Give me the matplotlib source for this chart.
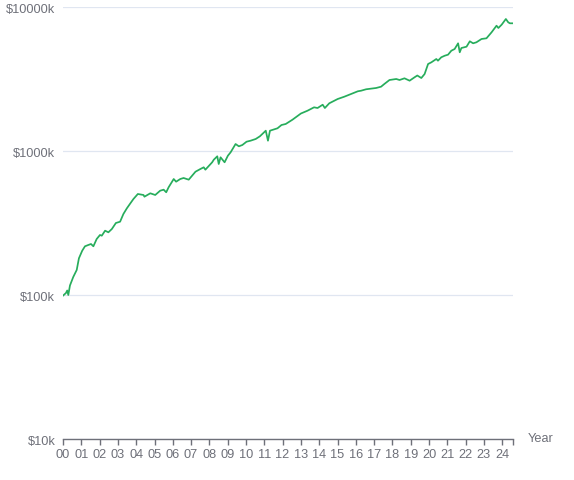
import numpy as np
import matplotlib
matplotlib.use("Agg")
import matplotlib.pyplot as plt
from matplotlib.ticker import FixedLocator, NullFormatter

# years since 2000 and portfolio value in $k
years = [0.01, 0.16, 0.23, 0.29, 0.38, 0.56, 0.75, 0.87, 1.05, 1.20,
         1.38, 1.53, 1.66, 1.84, 2.02, 2.12, 2.30, 2.48, 2.67, 2.89,
         3.12, 3.30, 3.49, 3.72, 3.85, 4.09, 4.40, 4.45, 4.77, 5.04,
         5.31, 5.50, 5.64, 5.77, 6.05, 6.18, 6.41, 6.59, 6.87, 7.24,
         7.51, 7.69, 7.78, 8.15, 8.24, 8.43, 8.51, 8.61, 8.83, 9.01,
         9.16, 9.43, 9.61, 9.80, 10.03, 10.25, 10.53, 10.76, 11.08, 11.20,
         11.31, 11.72, 11.94, 12.17, 12.54, 13.00, 13.36, 13.72, 13.91, 14.19,
         14.31, 14.55, 15.01, 15.37, 15.74, 16.11, 16.29, 16.56, 17.11, 17.38,
         17.56, 17.84, 18.21, 18.39, 18.66, 18.94, 19.21, 19.36, 19.58, 19.76,
         19.95, 20.13, 20.40, 20.49, 20.67, 20.86, 21.04, 21.22, 21.40, 21.59,
         21.68, 21.77, 22.05, 22.23, 22.41, 22.59, 22.87, 23.14, 23.42, 23.69,
         23.79, 23.97, 24.20, 24.33, 24.42, 24.57]
values_k = [99.7, 103.7, 108.0, 100.5, 117.0, 134.0, 150.0, 180.7, 204.0, 218.9,
            223.5, 227.1, 218.9, 246.0, 262.3, 259.4, 281.0, 273.8, 288.7, 317.8,
            324.4, 366.9, 402.0, 442.3, 466.6, 505.3, 497.3, 483.9, 510.9, 497.3,
            532.7, 541.3, 519.3, 562.3, 642.2, 615.1, 642.2, 652.6, 635.2, 721.8,
            753.7, 774.3, 745.2, 838.5, 874.3, 923.1, 816.2, 908.4, 838.5, 932.0,
            984.2, 1123.6, 1083.0, 1105.9, 1166.0, 1184.8, 1217.5, 1271.3, 1390.4, 1184.8,
            1390.4, 1444.6, 1522.8, 1547.5, 1657.7, 1830.0, 1913.6, 2020.4, 1998.0, 2106.0,
            1998.0, 2154.4, 2307.6, 2394.0, 2499.7, 2610.5, 2635.5, 2695.5, 2752.0, 2809.6,
            2934.0, 3127.0, 3178.0, 3127.0, 3213.0, 3093.0, 3265.0, 3360.0, 3228.0, 3441.0,
            4039.0, 4150.0, 4375.0, 4258.0, 4496.0, 4612.0, 4687.0, 4995.0, 5132.0, 5623.0,
            4870.0, 5216.0, 5326.0, 5806.0, 5623.0, 5714.0, 6025.0, 6092.0, 6707.0, 7452.0,
            7184.0, 7572.0, 8295.0, 7865.0, 7743.0, 7743.0]

year_labels = [f"{i:02d}" for i in range(25)]
y_ticks = [10, 100, 1000, 10000]
y_labels = ["$10k", "$100k", "$1000k", "$10000k"]

LINE = "#27ad5c"
AXIS = "#6e7079"
GRID = "#e0e6f1"

plt.rcParams["font.family"] = ["Liberation Sans", "DejaVu Sans"]

fig = plt.figure(figsize=(5.74, 4.81), dpi=100)
ax = fig.add_axes([63 / 574, 1 - 440.3 / 481, (513 - 63) / 574, (440.3 - 8.3) / 481])

ax.plot(years, values_k, color=LINE, lw=1.25, solid_joinstyle="round", zorder=3)

ax.set_yscale("log")
ax.set_ylim(10, 10000)
ax.set_xlim(0, 24.59)

ax.yaxis.set_major_locator(FixedLocator(y_ticks))
ax.yaxis.set_minor_locator(FixedLocator([]))
ax.set_yticklabels(y_labels)
ax.yaxis.set_minor_formatter(NullFormatter())
ax.grid(axis="y", color=GRID, lw=0.9)
ax.set_axisbelow(True)

ax.set_xticks(range(25))
ax.set_xticklabels(year_labels)
ax.xaxis.set_minor_locator(FixedLocator([24.59]))

for side in ["top", "right", "left"]:
    ax.spines[side].set_visible(False)
ax.spines["bottom"].set_color(AXIS)
ax.spines["bottom"].set_linewidth(1.0)

ax.tick_params(axis="y", length=0, pad=5.5, labelsize=9.2, labelcolor=AXIS)
ax.tick_params(axis="x", which="both", length=4.5, width=1.0, color=AXIS,
               direction="out", pad=2, labelsize=9.2, labelcolor=AXIS)

fig.text(528 / 574, 1 - 439 / 481, "Year", color=AXIS, fontsize=9.2,
         ha="left", va="center")

fig.savefig("out.png", dpi=100)
